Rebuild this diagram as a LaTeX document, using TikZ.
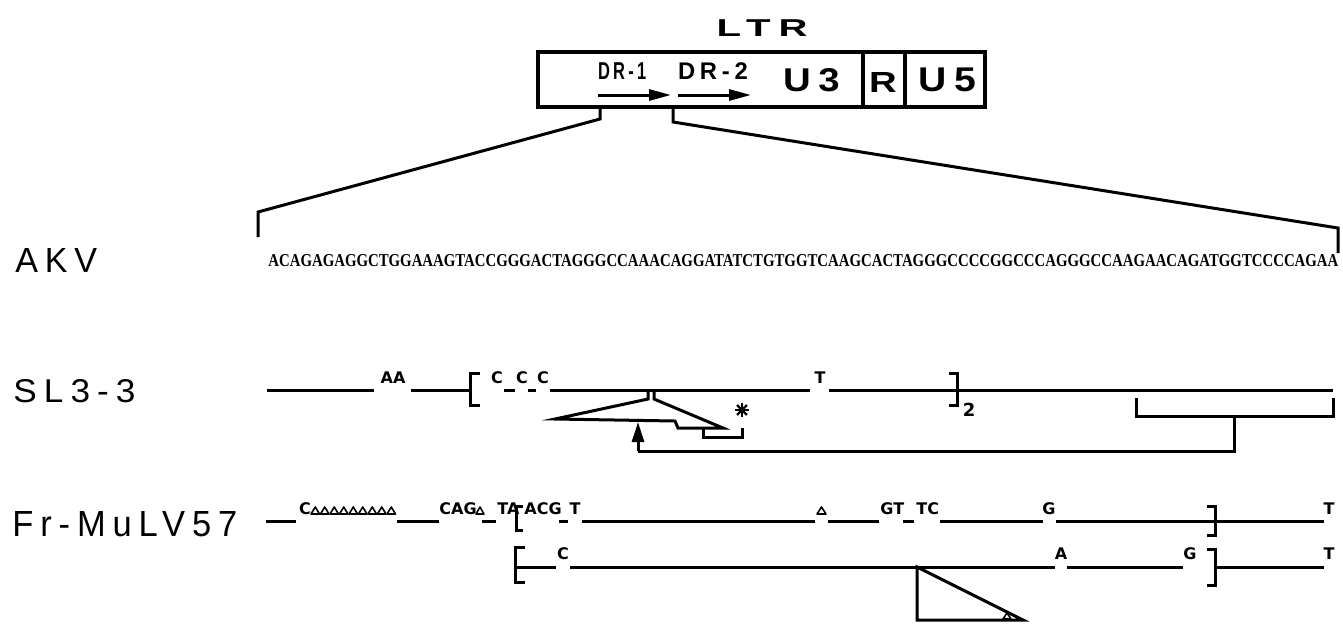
\documentclass[tikz,border=0pt]{standalone}
\usepackage{fontspec}
\setmainfont{Liberation Serif}
\setsansfont{Liberation Sans}
\newfontfamily\lettering[LetterSpace=20, BoldFont=Liberation Sans Bold]{Liberation Sans}
\newfontfamily\seqfont{Liberation Serif Bold}
\newfontfamily\nucfont{DejaVu Sans Bold}
\usetikzlibrary{arrows.meta}

% lettered label squeezed to a given width and cap height
\newcommand{\lroy}[3]{\resizebox{#1}{#2}{\lettering #3\kern-.2em}}

\begin{document}
\begin{tikzpicture}[
  x=0.5pt, y=-0.5pt,
  dna/.style={line width=1.5pt},
  box/.style={line width=1.8pt},
  tri/.style={line width=0.8pt, line join=round},
  strain/.style={anchor=west, inner sep=0pt},
  ltrlbl/.style={inner sep=0pt},
  nuc/.style={font=\nucfont\fontsize{8}{9}\selectfont, anchor=base, inner sep=0pt},
  arrow/.style={-{Triangle[length=11pt, width=5.5pt]}, line width=1.5pt}
]
  \useasboundingbox (0,0) rectangle (1343,623);

  % LTR map
  \node[ltrlbl] (ltr) at (758,28.5) {\lroy{41.5pt}{8.4pt}{\bfseries LTR}};
  \draw[box] (538,52) rectangle (985,107);
  \draw[box] (863,52) -- (863,107);
  \draw[box] (905,52) -- (905,107);
  \node[ltrlbl] (dr1) at (620.5,71.5) {\lroy{22.5pt}{8.4pt}{\bfseries DR-1}};
  \node[ltrlbl] (dr2) at (710.5,71.5) {\lroy{32.5pt}{8.4pt}{\bfseries DR-2}};
  \draw[arrow] (598,95) -- (671,95);
  \draw[arrow] (678,95) -- (751,95);
  \node[ltrlbl] (u3) at (807.5,80) {\lroy{24.5pt}{11.5pt}{\bfseries U3}};
  \node[ltrlbl] (r) at (879,82) {\lroy{10pt}{10pt}{\bfseries R}};
  \node[ltrlbl] (u5) at (943,80) {\lroy{25pt}{11.8pt}{\bfseries U5}};

  % zoom onto the sequence
  \draw[dna] (600,107) -- (600,119) -- (258,212) -- (258,237);
  \draw[dna] (673,107) -- (673,122) -- (1338,228) -- (1338,253);

  % AKV
  \node[strain] (akv) at (15,260) {\lroy{37.5pt}{12pt}{AKV}};
  \node[anchor=base west, inner sep=0pt] (seq) at (268,266)
    {\resizebox{535pt}{6pt}{\seqfont ACAGAGAGGCTGGAAAGTACCGGGACTAGGGCCAAACAGGATATCTGTGGTCAAGCACTAGGGCCCCGGCCCAGGGCCAAGAACAGATGGTCCCCAGAA}};

  % SL3-3
  \node[strain] (sl) at (13,391.5) {\lroy{57.5pt}{11.5pt}{SL3-3}};
  \draw[dna] (267,390) -- (374,390);
  \node[nuc] (aa) at (393,383) {AA};
  \draw[dna] (411,390) -- (470,390);
  \draw[dna] (480,373) -- (470,373) -- (470,405) -- (480,405);
  \node[nuc] (c1) at (497,383) {C};
  \draw[dna] (504,390) -- (515,390);
  \node[nuc] (c2) at (522,383) {C};
  \draw[dna] (528,390) -- (536,390);
  \node[nuc] (c3) at (543,383) {C};
  \draw[dna] (550,390) -- (810,390);
  \node[nuc] (t1) at (820,383) {T};
  \draw[dna] (829,390) -- (1333,390);
  \draw[dna] (949,373) -- (957,373) -- (957,405) -- (949,405);
  \node[nuc, font=\nucfont\fontsize{9}{10}\selectfont] (rep) at (969,416) {2};
  \draw[dna] (648,390) -- (648,399) -- (555,419) -- (675,421) -- (678,428)
    -- (723,428) -- (654,399) -- (654,390);
  \draw[dna] (703,428) -- (703,437) -- (742,437) -- (742,428);
  \coordinate (mut) at (742,410);
  \foreach \a in {0,45,90,135}
    \draw[line width=1.2pt] (mut) ++(\a:7) -- ++(\a+180:14);
  \draw[dna] (1136,398) -- (1136,416) -- (1333,416) -- (1333,398);
  \draw[dna] (1234,416) -- (1234,451) -- (638,451);
  \draw[-{Triangle[length=10pt, width=6pt]}, line width=1.5pt] (638,451) -- (638,422);

  % Fr-MuLV57, upper line
  \node[strain] (fr) at (12,524.5) {\lroy{109pt}{12.5pt}{Fr-MuLV57}};
  \draw[dna] (266,521) -- (296,521);
  \node[nuc] (f1) at (305,514) {C};
  \foreach \i in {0,...,8}
    \draw[tri] ({311+9.5*\i},514) -- ++(4.25,-7) -- ++(4.25,7) -- cycle;
  \draw[dna] (397,521) -- (439,521);
  \node[nuc, anchor=base west] (f2) at (439,514) {CAG};
  \draw[tri] (476,514) -- ++(4,-7) -- ++(4,7) -- cycle;
  \draw[dna] (482,521) -- (496,521);
  \node[nuc, anchor=base west] (f3) at (497,514) {TA};
  \draw[dna] (523,506) -- (516,506) -- (516,530) -- (523,530);
  \node[nuc, anchor=base west] (f4) at (524,514) {ACG};
  \draw[dna] (559,521) -- (568,521);
  \node[nuc] (f5) at (575,514) {T};
  \draw[dna] (582,521) -- (815,521);
  \draw[tri] (817,514) -- ++(4.5,-7) -- ++(4.5,7) -- cycle;
  \draw[dna] (828,521) -- (879,521);
  \node[nuc, anchor=base west] (f6) at (880,514) {GT};
  \draw[dna] (903,521) -- (914,521);
  \node[nuc, anchor=base west] (f7) at (916,514) {TC};
  \draw[dna] (940,521) -- (1043,521);
  \node[nuc] (f8) at (1049,514) {G};
  \draw[dna] (1056,521) -- (1324,521);
  \draw[dna] (1207,506) -- (1215,506) -- (1215,535) -- (1207,535);
  \node[nuc] (f9) at (1329,514) {T};

  % Fr-MuLV57, lower line
  \draw[dna] (525,547) -- (515,547) -- (515,582) -- (525,582);
  \draw[dna] (515,567) -- (556,567);
  \node[nuc] (g1) at (563,559) {C};
  \draw[dna] (570,567) -- (1055,567);
  \node[nuc] (g2) at (1061,559) {A};
  \draw[dna] (1067,567) -- (1183,567);
  \node[nuc] (g3) at (1190,559) {G};
  \draw[dna] (1207,549) -- (1215,549) -- (1215,585) -- (1207,585);
  \draw[dna] (1215,567) -- (1324,567);
  \node[nuc] (g4) at (1329,559) {T};
  \draw[dna] (917,567) -- (917,620) -- (1023,620) -- cycle;
  \draw[tri] (1003,619) -- ++(4,-6) -- ++(4,6) -- cycle;
\end{tikzpicture}
\end{document}
